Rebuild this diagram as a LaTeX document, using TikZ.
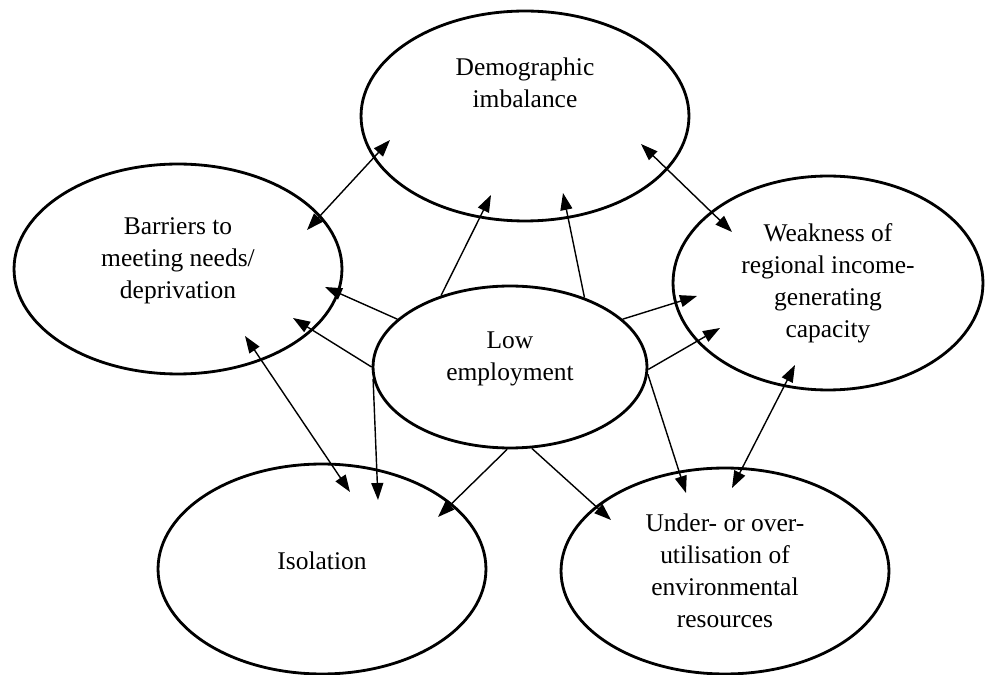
\documentclass[tikz,border=0pt]{standalone}
\usepackage{fontspec}
\setmainfont{Liberation Serif}
\usetikzlibrary{shapes.geometric}
\usetikzlibrary{arrows.meta}
\usetikzlibrary{calc}
\tikzset{
  bubble/.style={ellipse, draw, line width=1.6pt, inner sep=0pt, align=center,
    font=\fontsize{14.5}{18.2}\selectfont},
  big/.style={bubble, minimum width=6.56cm, minimum height=4.2cm},
  tip/.style={line width=0.8pt, -{Triangle[length=0.34cm,width=0.24cm]}},
  twoway/.style={line width=0.8pt, {Triangle[length=0.34cm,width=0.24cm]}-{Triangle[length=0.34cm,width=0.24cm]}},
}

\begin{document}
\begin{tikzpicture}[x=0.02cm, y=-0.02cm]
  \useasboundingbox (0,0) rectangle (988,675);
  % the six ellipses
  \node[big, text depth=1.35cm] (demo) at (525,116) {Demographic\\imbalance};
  \node[big, text depth=0.43cm] (barr) at (178,269) {Barriers to\\meeting needs/\\deprivation};
  \node[big, minimum width=6.2cm, minimum height=4.28cm] (weak) at (828,283)
    {Weakness of\\regional income-\\generating\\capacity};
  \node[bubble, minimum width=5.48cm, minimum height=3.24cm, text depth=0.43cm] (low) at (510,367)
    {Low\\employment};
  \node[big, text depth=0.32cm] (isol) at (322,569) {Isolation};
  \node[big, minimum height=4.12cm] (under) at (725,571)
    {Under- or over-\\utilisation of\\environmental\\resources};

  % from low employment
  \draw[tip] (low.134) -- ($(demo)+(-34,79)$);
  \draw[tip] (low.43) -- ($(demo)+(38,77)$);
  \draw[tip] (low.157) -- ($(barr)+(147,18)$);
  \draw[tip] (low.180) -- ($(barr)+(115,49)$);
  \draw[tip] (low.23) -- ($(weak)+(-131,13)$);
  \draw[tip] (low.359) -- ($(weak)+(-108,45)$);
  \draw[tip] (low.185) -- ($(isol)+(56,-69)$);
  \draw[tip] (low.268) -- ($(isol)+(116,-52)$);
  \draw[tip] (low.285) -- ($(under)+(-114,-51)$);
  \draw[tip] (low.357) -- ($(under)+(-39,-78)$);

  % between the outer ellipses
  \draw[twoway] ($(demo)+(-135,24)$) -- ($(barr)+(129,-39)$);
  \draw[twoway] ($(demo)+(116,28)$) -- ($(weak)+(-96,-51)$);
  \draw[twoway] ($(barr)+(67,67)$) -- ($(isol)+(28,-77)$);
  \draw[twoway] ($(weak)+(-33,82)$) -- ($(under)+(7,-83)$);
\end{tikzpicture}
\end{document}
